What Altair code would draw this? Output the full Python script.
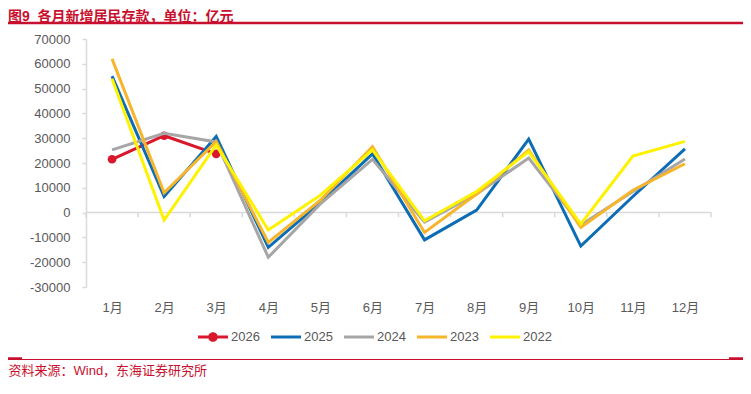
import altair as alt
import pandas as pd

# ---------------- data ----------------
month_labels = ["1月", "2月", "3月", "4月", "5月", "6月", "7月", "8月", "9月", "10月", "11月", "12月"]
series = ["2026", "2025", "2024", "2023", "2022"]
colors = ["#D9182D", "#0C6DB5", "#A6A6A6", "#F7B52C", "#FFF200"]

v2026 = [21500, 31000, 23700]
v2025 = [55000, 6500, 30700, -14000, 4000, 23700, -11000, 1000, 29600, -13500, 6500, 25700]
v2024 = [25300, 32000, 28500, -18000, 3500, 21500, -3800, 7500, 22000, -5000, 8500, 21600]
v2023 = [62000, 8000, 28700, -12000, 5000, 26600, -8000, 7500, 25300, -6000, 9000, 19700]
v2022 = [54000, -3000, 27300, -7000, 7000, 25300, -3300, 8500, 24600, -4600, 22800, 28700]

y_ticks = [-30000, -20000, -10000, 0, 10000, 20000, 30000, 40000, 50000, 60000, 70000]

title_text = "图9\u00a0\u00a0各月新增居民存款，单位：亿元"
source_text = "资料来源：Wind，东海证券研究所"

values = {"2026": v2026, "2025": v2025, "2024": v2024, "2023": v2023, "2022": v2022}

rows = []
for s in series:
    for i, v in enumerate(values[s]):
        rows.append({"series": s, "m": i + 1, "v": v})
df = pd.DataFrame(rows)
bounds = pd.DataFrame({"b": [i + 0.5 for i in range(len(month_labels) + 1)]})
legend_df = pd.DataFrame({"series": series})
dummy = pd.DataFrame({"a": [0]})

FONT = "Liberation Sans, Arial, Noto Sans CJK SC"
RED = "#C8102E"
GREY_TXT = "#595959"
AXIS_GREY = "#D9D9D9"

label_array = "[" + ",".join("'" + m + "'" for m in month_labels) + "]"

x_axis = alt.Axis(
    values=list(range(1, 13)),
    labelExpr=label_array + "[datum.value - 1]",
    ticks=False, domain=False, grid=False,
    labelFont=FONT, labelFontSize=13, labelColor=GREY_TXT, labelPadding=14,
    title=source_text, titleX=-78, titleY=83, titleAlign="left", titleBaseline="middle",
    titleFont=FONT, titleFontSize=13, titleFontWeight="normal", titleColor=RED,
)
y_axis = alt.Axis(
    values=y_ticks, labelExpr="'' + datum.value", grid=False, labelOverlap=False,
    domainColor=AXIS_GREY, domainWidth=1.5, tickColor=AXIS_GREY, tickSize=4, tickWidth=1.5,
    labelFont=FONT, labelFontSize=13, labelColor=GREY_TXT, labelPadding=12, title=None,
)

x_scale = alt.Scale(domain=[0.5, 12.5], nice=False, zero=False)
y_scale = alt.Scale(domain=[-30000, 70000], nice=False, zero=False)
x_enc = alt.X("m:Q", scale=x_scale, axis=x_axis)
y_enc = alt.Y("v:Q", scale=y_scale, axis=y_axis)

# legend symbols: filled thin bar (= line), plus a dot for the 2026 series
line_sym = "M-1,-0.1H1V0.1H-1Z"
dot_sym = line_sym + "M-0.32,0A0.32,0.32,0,1,1,0.32,0A0.32,0.32,0,1,1,-0.32,0Z"
shapes = [dot_sym] + [line_sym] * (len(series) - 1)

legend = alt.Legend(
    title=None, orient="none", legendX=112, legendY=283, direction="horizontal",
    symbolSize=900, symbolStrokeWidth=0,
    labelFont=FONT, labelFontSize=13, labelColor=GREY_TXT, labelOffset=3,
    columnPadding=11, padding=0,
)
color_scale = alt.Scale(domain=series, range=colors)

zero_rule = alt.Chart(dummy).mark_rule(color=AXIS_GREY, strokeWidth=1.5).encode(
    x=alt.XDatum(0.5, type="quantitative", scale=x_scale, axis=x_axis),
    x2=alt.X2Datum(12.5),
    y=alt.YDatum(0, type="quantitative", scale=y_scale, axis=y_axis))
zero_ticks = alt.Chart(bounds).mark_rule(color=AXIS_GREY, strokeWidth=1.5).encode(
    x=alt.X("b:Q", scale=x_scale, axis=x_axis),
    y=alt.YDatum(0, type="quantitative", scale=y_scale, axis=y_axis),
    y2=alt.Y2Datum(-1900))

layers = [zero_rule, zero_ticks]
for s, c in zip(series, colors):
    d = df[df["series"] == s]
    layers.append(alt.Chart(d).mark_line(strokeWidth=3, color=c).encode(x=x_enc, y=y_enc))
    if s == "2026":
        layers.append(alt.Chart(d).mark_point(filled=True, size=75, opacity=1, color=c).encode(
            x=x_enc, y=y_enc))

# legend-only layer (its points lie outside the clipped plot)
legend_layer = alt.Chart(legend_df).mark_point(filled=True, opacity=1, clip=True).encode(
    x=alt.XDatum(-100, type="quantitative", scale=x_scale, axis=x_axis),
    y=alt.YDatum(0, type="quantitative", scale=y_scale, axis=y_axis),
    color=alt.Color("series:N", scale=color_scale, legend=legend),
    shape=alt.Shape("series:N", scale=alt.Scale(domain=series, range=shapes), legend=legend),
)
layers.append(legend_layer)

# decorative header / footer rules
top_rule = alt.Chart(dummy).mark_rule(color=RED, strokeWidth=2.5).encode(
    x=alt.value(-78), x2=alt.value(657), y=alt.value(-16))
bottom_rule = alt.Chart(dummy).mark_rule(color=RED, strokeWidth=1).encode(
    x=alt.value(-78), x2=alt.value(657), y=alt.value(320.5))
bottom_l = alt.Chart(dummy).mark_rule(color=RED, strokeWidth=2.5).encode(
    x=alt.value(-78), x2=alt.value(-64), y=alt.value(319.5))
bottom_r = alt.Chart(dummy).mark_rule(color=RED, strokeWidth=2.5).encode(
    x=alt.value(643), x2=alt.value(657), y=alt.value(319.5))
layers += [top_rule, bottom_rule, bottom_l, bottom_r]

chart = alt.layer(*layers).properties(
    width=625, height=248,
    autosize=alt.AutoSizeParams(type="none"),
    padding={"left": 78, "top": 31, "right": 32, "bottom": 99},
    title=alt.TitleParams(title_text, anchor="start", frame="group", dx=-78, offset=-2,
                          font=FONT, fontSize=14, fontWeight="bold", color=RED),
).configure(background="white").configure_view(stroke=None)

chart.save("out.html", embed_options={"renderer": "svg", "actions": False})
